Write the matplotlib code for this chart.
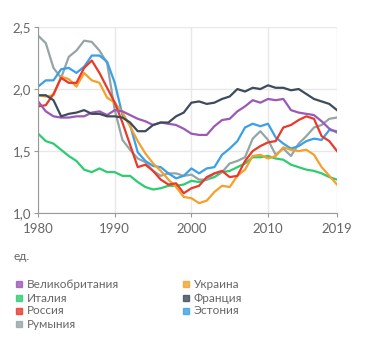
import matplotlib.pyplot as plt
import numpy as np

plt.rcParams['font.family'] = ['Lato', 'DejaVu Sans']

years = np.arange(1980, 2020)

uk = [1.90, 1.82, 1.78, 1.77, 1.77, 1.78, 1.78, 1.81, 1.82, 1.79,
      1.83, 1.82, 1.79, 1.76, 1.74, 1.71, 1.73, 1.72, 1.71, 1.68,
      1.64, 1.63, 1.63, 1.70, 1.75, 1.76, 1.82, 1.86, 1.91, 1.89,
      1.92, 1.91, 1.92, 1.83, 1.81, 1.80, 1.79, 1.74, 1.68, 1.65]
italy = [1.64, 1.58, 1.56, 1.51, 1.46, 1.42, 1.35, 1.33, 1.36, 1.33,
         1.33, 1.30, 1.30, 1.25, 1.21, 1.19, 1.20, 1.22, 1.22, 1.23,
         1.26, 1.25, 1.27, 1.29, 1.33, 1.34, 1.37, 1.40, 1.45, 1.45,
         1.46, 1.44, 1.43, 1.39, 1.37, 1.35, 1.34, 1.32, 1.29, 1.27]
russia = [1.86, 1.87, 1.96, 2.09, 2.05, 2.05, 2.17, 2.23, 2.13, 2.01,
          1.89, 1.73, 1.55, 1.37, 1.39, 1.34, 1.27, 1.23, 1.24, 1.16,
          1.20, 1.22, 1.29, 1.32, 1.34, 1.29, 1.30, 1.42, 1.50, 1.54,
          1.57, 1.58, 1.69, 1.71, 1.75, 1.78, 1.76, 1.62, 1.58, 1.50]
romania = [2.43, 2.37, 2.17, 2.09, 2.26, 2.31, 2.39, 2.38, 2.31, 2.21,
           1.83, 1.59, 1.51, 1.44, 1.41, 1.34, 1.30, 1.32, 1.32, 1.30,
           1.31, 1.27, 1.27, 1.32, 1.33, 1.40, 1.42, 1.45, 1.60, 1.66,
           1.59, 1.47, 1.52, 1.46, 1.56, 1.62, 1.69, 1.71, 1.76, 1.77]
ukraine = [1.95, 1.94, 1.95, 2.10, 2.08, 2.02, 2.13, 2.07, 2.05, 1.93,
           1.89, 1.81, 1.70, 1.58, 1.48, 1.40, 1.34, 1.27, 1.21, 1.13,
           1.12, 1.08, 1.10, 1.17, 1.22, 1.21, 1.30, 1.35, 1.46, 1.47,
           1.44, 1.46, 1.53, 1.51, 1.50, 1.51, 1.47, 1.37, 1.30, 1.23]
france = [1.95, 1.95, 1.91, 1.78, 1.80, 1.81, 1.83, 1.80, 1.80, 1.78,
          1.78, 1.77, 1.73, 1.66, 1.66, 1.71, 1.73, 1.73, 1.78, 1.81,
          1.89, 1.90, 1.88, 1.89, 1.92, 1.94, 2.00, 1.98, 2.01, 2.00,
          2.03, 2.01, 2.01, 1.99, 2.00, 1.96, 1.92, 1.90, 1.88, 1.83]
estonia = [2.02, 2.07, 2.07, 2.16, 2.17, 2.13, 2.18, 2.27, 2.27, 2.22,
           2.05, 1.79, 1.71, 1.49, 1.42, 1.38, 1.37, 1.32, 1.28, 1.30,
           1.36, 1.32, 1.36, 1.37, 1.47, 1.52, 1.58, 1.69, 1.72, 1.70,
           1.72, 1.61, 1.56, 1.52, 1.54, 1.58, 1.60, 1.59, 1.67, 1.66]

names = ['Великобритания', 'Италия', 'Россия', 'Румыния',
         'Украина', 'Франция', 'Эстония']
series = [uk, italy, russia, romania, ukraine, france, estonia]
colors = ['#9b59b6', '#2ecc71', '#e8392b', '#95a5a6',
          '#f5a02a', '#3d4b5c', '#3aa0e8']

# draw order (back to front)
order = [1, 3, 6, 4, 2, 0, 5]

fig = plt.figure(figsize=(3.74, 3.42), dpi=100)
ax = fig.add_axes([0.102, 0.377, 0.799, 0.544])

for i in order:
    ax.plot(years, series[i], color=colors[i], lw=1.6, solid_joinstyle='round')

ax.set_xlim(1980, 2019)
ax.set_ylim(1.0, 2.5)
ax.set_xticks([1980, 1990, 2000, 2010, 2019])
ax.set_yticks([1.0, 1.5, 2.0, 2.5])
ax.set_yticklabels(['1,0', '1,5', '2,0', '2,5'])
ax.grid(True, color='#e8e8e8', lw=1)
ax.set_axisbelow(True)
for s in ['top', 'right']:
    ax.spines[s].set_visible(False)
for s in ['left', 'bottom']:
    ax.spines[s].set_color('#999999')
ax.tick_params(colors='#999999', labelcolor='#666666', labelsize=9.5,
               length=3, width=0.8)
ax.tick_params(axis='x', pad=4)
ax.tick_params(axis='y', pad=2)

fig.text(14 / 374, 1 - 257 / 342, 'ед.', fontsize=8.5, color='#666666',
         va='center')

rows = [284, 298, 311, 324]
for k, (n, c) in enumerate(zip(names, colors)):
    col, row = divmod(k, 4)
    x0 = 16 if col == 0 else 183
    y = 1 - rows[row] / 342
    fig.patches.append(plt.Rectangle((x0 / 374, y - 3 / 342), 6 / 374, 6 / 342,
                                     transform=fig.transFigure, color=c,
                                     alpha=0.8))
    fig.text((x0 + 11) / 374, y, n, fontsize=8.5, color='#666666', va='center')

fig.savefig('out.png', dpi=100)
